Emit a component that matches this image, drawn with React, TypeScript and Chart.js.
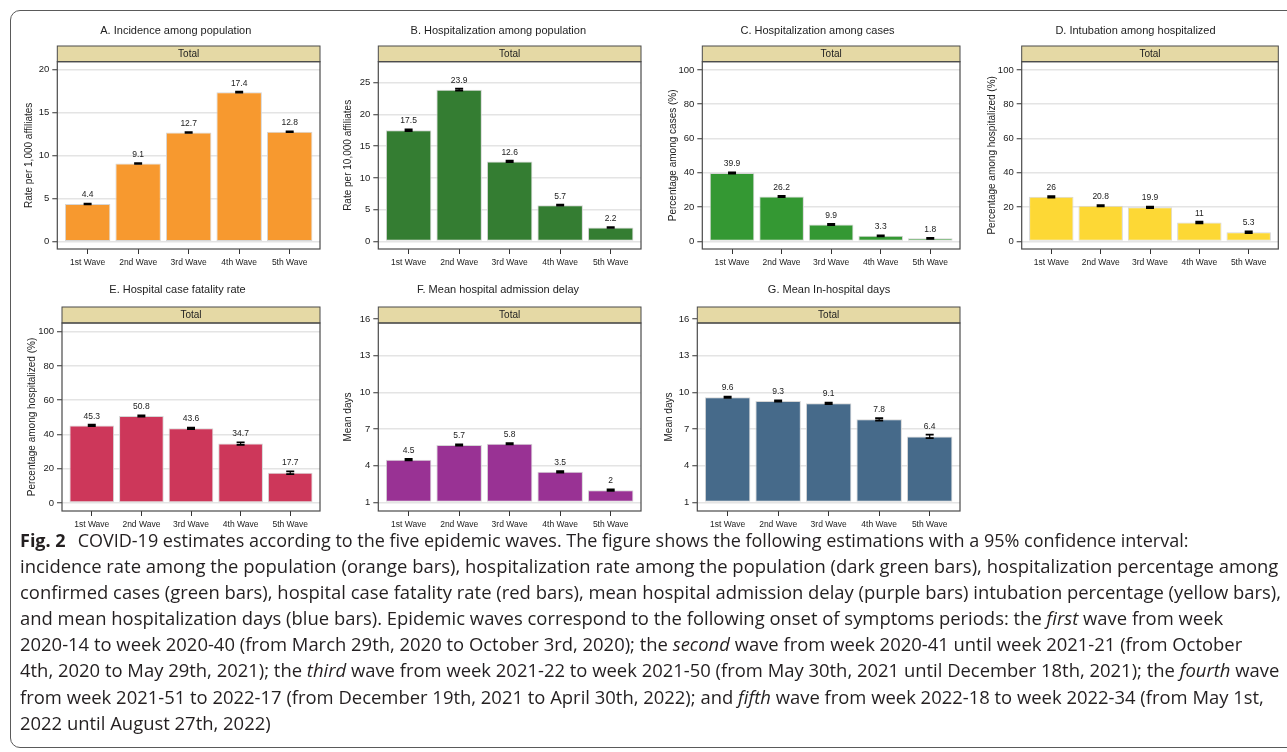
import React, { useEffect, useLayoutEffect, useRef } from 'react';
import { Chart, registerables } from 'chart.js';

Chart.register(...registerables);

// ---------------- DATA ----------------
const waveLabels = ['1st Wave', '2nd Wave', '3rd Wave', '4th Wave', '5th Wave'];
const stripLabel = 'Total';

const incidenceValues = [4.4, 9.1, 12.7, 17.4, 12.8];
const incidenceLower = [4.36, 9.06, 12.66, 17.35, 12.75];
const incidenceUpper = [4.44, 9.14, 12.74, 17.45, 12.85];

const hospPopValues = [17.5, 23.9, 12.6, 5.7, 2.2];
const hospPopLower = [17.35, 23.75, 12.5, 5.63, 2.15];
const hospPopUpper = [17.65, 24.05, 12.7, 5.77, 2.25];

const hospCasesValues = [39.9, 26.2, 9.9, 3.3, 1.8];
const hospCasesLower = [39.6, 25.9, 9.6, 3.0, 1.55];
const hospCasesUpper = [40.2, 26.5, 10.2, 3.6, 2.05];

const intubationValues = [26, 20.8, 19.9, 11, 5.3];
const intubationLower = [25.6, 20.4, 19.5, 10.5, 4.8];
const intubationUpper = [26.4, 21.2, 20.3, 11.5, 5.8];

const fatalityValues = [45.3, 50.8, 43.6, 34.7, 17.7];
const fatalityLower = [44.9, 50.4, 43.2, 34.0, 16.9];
const fatalityUpper = [45.7, 51.2, 44.0, 35.4, 18.5];

const delayValues = [4.5, 5.7, 5.8, 3.5, 2];
const delayLower = [4.45, 5.65, 5.75, 3.44, 1.94];
const delayUpper = [4.55, 5.75, 5.85, 3.56, 2.06];

const inHospitalValues = [9.6, 9.3, 9.1, 7.8, 6.4];
const inHospitalLower = [9.55, 9.25, 9.04, 7.7, 6.26];
const inHospitalUpper = [9.65, 9.35, 9.16, 7.9, 6.54];

const ticksIncidence = [0, 5, 10, 15, 20];
const ticksHospPop = [0, 5, 10, 15, 20, 25];
const ticksPercent = [0, 20, 40, 60, 80, 100];
const ticksDays = [1, 4, 7, 10, 13, 16];

const panelTitles = [
  'A. Incidence among population',
  'B. Hospitalization among population',
  'C. Hospitalization among cases',
  'D. Intubation among hospitalized',
  'E. Hospital case fatality rate',
  'F. Mean hospital admission delay',
  'G. Mean In-hospital days',
];

const axisTitles = [
  'Rate per 1,000 affiliates',
  'Rate per 10,000 affiliates',
  'Percentage among cases (%)',
  'Percentage among hospitalized (%)',
  'Percentage among hospitalized (%)',
  'Mean days',
  'Mean days',
];

const captionLabel = 'Fig. 2';
const captionLines = [
  'COVID-19 estimates according to the five epidemic waves. The figure shows the following estimations with a 95% confidence interval:',
  'incidence rate among the population (orange bars), hospitalization rate among the population (dark green bars), hospitalization percentage among',
  'confirmed cases (green bars), hospital case fatality rate (red bars), mean hospital admission delay (purple bars) intubation percentage (yellow bars),',
  'and mean hospitalization days (blue bars). Epidemic waves correspond to the following onset of symptoms periods: the *first* wave from week',
  '2020-14 to week 2020-40 (from March 29th, 2020 to October 3rd, 2020); the *second* wave from week 2020-41 until week 2021-21 (from October',
  '4th, 2020 to May 29th, 2021); the *third* wave from week 2021-22 to week 2021-50 (from May 30th, 2021 until December 18th, 2021); the *fourth* wave',
  'from week 2021-51 to 2022-17 (from December 19th, 2021 to April 30th, 2022); and *fifth* wave from week 2022-18 to week 2022-34 (from May 1st,',
  '2022 until August 27th, 2022)',
];

// ---------------- STYLE / LAYOUT ----------------
const FONT = '"Liberation Sans", Arial, Helvetica, sans-serif';
const frameColor = '#4a4a4a';
const gridColor = '#e4e4e4';
const textColor = '#222222';
const stripColor = '#e5d9a5';
const barEdge = '#d6d6d6';

type Row = { top: number; titleY: number; stripTop: number; plotTop: number; plotBottom: number };
const ROWS: Row[] = [
  { top: 14, titleY: 30.7, stripTop: 46, plotTop: 61.7, plotBottom: 249 },
  { top: 275, titleY: 290, stripTop: 307, plotTop: 323, plotBottom: 511 },
];

type Panel = {
  title: string;
  axisTitle: string;
  values: number[];
  lower: number[];
  upper: number[];
  ticks: number[];
  min: number;
  max: number;
  base: number;
  color: string;
  row: number;
  yTitleX: number;
  plotLeft: number;
  plotRight: number;
  titleX: number;
};

const panels: Panel[] = [
  { title: panelTitles[0], axisTitle: axisTitles[0], values: incidenceValues, lower: incidenceLower, upper: incidenceUpper, ticks: ticksIncidence, min: -0.85, max: 20.95, base: 0, color: '#f7992f', row: 0, yTitleX: 29, plotLeft: 57.3, plotRight: 320, titleX: 175.8 },
  { title: panelTitles[1], axisTitle: axisTitles[1], values: hospPopValues, lower: hospPopLower, upper: hospPopUpper, ticks: ticksHospPop, min: -1.2, max: 28.3, base: 0, color: '#347d32', row: 0, yTitleX: 348.3, plotLeft: 378.3, plotRight: 641, titleX: 498.3 },
  { title: panelTitles[2], axisTitle: axisTitles[2], values: hospCasesValues, lower: hospCasesLower, upper: hospCasesUpper, ticks: ticksPercent, min: -4.4, max: 104.8, base: 0, color: '#349833', row: 0, yTitleX: 672.7, plotLeft: 702.3, plotRight: 960, titleX: 817.5 },
  { title: panelTitles[3], axisTitle: axisTitles[3], values: intubationValues, lower: intubationLower, upper: intubationUpper, ticks: ticksPercent, min: -4.4, max: 104.8, base: 0, color: '#fdd835', row: 0, yTitleX: 991.7, plotLeft: 1021.7, plotRight: 1278.3, titleX: 1135.5 },
  { title: panelTitles[4], axisTitle: axisTitles[4], values: fatalityValues, lower: fatalityLower, upper: fatalityUpper, ticks: ticksPercent, min: -4.6, max: 105, base: 0, color: '#cd375a', row: 1, yTitleX: 31.7, plotLeft: 62, plotRight: 320, titleX: 177.5 },
  { title: panelTitles[5], axisTitle: axisTitles[5], values: delayValues, lower: delayLower, upper: delayUpper, ticks: ticksDays, min: 0.3, max: 15.67, base: 1, color: '#993294', row: 1, yTitleX: 348.3, plotLeft: 378.3, plotRight: 641, titleX: 498 },
  { title: panelTitles[6], axisTitle: axisTitles[6], values: inHospitalValues, lower: inHospitalLower, upper: inHospitalUpper, ticks: ticksDays, min: 0.3, max: 15.67, base: 1, color: '#466a8a', row: 1, yTitleX: 669, plotLeft: 697.3, plotRight: 960, titleX: 829 },
];

function PanelChart({ p }: { p: Panel }) {
  const ref = useRef<HTMLCanvasElement>(null);
  const row = ROWS[p.row];
  const cl = Math.round(p.yTitleX - 6);
  const ct = row.top;
  const innerW = p.plotRight - cl;
  const w = Math.ceil(innerW) + 8;
  const xAxisH = 25;
  const h = Math.round(row.plotBottom - ct) + xAxisH;

  useEffect(() => {
    const canvas = ref.current;
    if (!canvas) return;
    const stripTop = row.stripTop - ct;

    const decor = {
      id: 'panelDecor',
      afterDraw(chart: any) {
        const ctx = chart.ctx as CanvasRenderingContext2D;
        const { left, right, top, bottom } = chart.chartArea;
        const ys = chart.scales.y;
        const meta = chart.getDatasetMeta(0);
        ctx.save();
        // strip
        ctx.fillStyle = stripColor;
        ctx.fillRect(left, stripTop, right - left, top - stripTop);
        ctx.strokeStyle = frameColor;
        ctx.lineWidth = 1;
        ctx.strokeRect(left, stripTop, right - left, top - stripTop);
        ctx.fillStyle = textColor;
        ctx.font = `10px ${FONT}`;
        ctx.textAlign = 'center';
        ctx.textBaseline = 'middle';
        ctx.fillText(stripLabel, (left + right) / 2, (stripTop + top) / 2 + 0.5);
        // frame
        ctx.lineWidth = 1.2;
        ctx.strokeRect(left, top, right - left, bottom - top);
        // error bars + value labels
        meta.data.forEach((bar: any, i: number) => {
          const x = bar.x;
          const yl = ys.getPixelForValue(p.lower[i]);
          const yh = ys.getPixelForValue(p.upper[i]);
          ctx.strokeStyle = '#000';
          ctx.lineWidth = 1.2;
          ctx.beginPath();
          ctx.moveTo(x, yl);
          ctx.lineTo(x, yh);
          ctx.stroke();
          ctx.lineWidth = 1.8;
          ctx.beginPath();
          ctx.moveTo(x - 4, yl);
          ctx.lineTo(x + 4, yl);
          ctx.moveTo(x - 4, yh);
          ctx.lineTo(x + 4, yh);
          ctx.stroke();
          ctx.fillStyle = textColor;
          ctx.font = `8.5px ${FONT}`;
          ctx.textAlign = 'center';
          ctx.textBaseline = 'middle';
          ctx.fillText(String(p.values[i]), x, yh - 8.5);
        });
        // panel title
        ctx.fillStyle = textColor;
        ctx.font = `11px ${FONT}`;
        ctx.textAlign = 'center';
        ctx.textBaseline = 'middle';
        ctx.fillText(p.title, p.titleX - cl, row.titleY - ct);
        ctx.restore();
      },
    };

    const chart = new Chart(canvas, {
      type: 'bar',
      data: {
        datasets: [
          {
            data: p.values.map((v, i) => ({ x: i + 1, y: v })),
            backgroundColor: p.color,
            borderColor: barEdge,
            borderWidth: 1,
            borderSkipped: false,
            barPercentage: 0.9,
            categoryPercentage: 1,
            base: p.base,
          } as any,
        ],
      },
      options: {
        responsive: false,
        animation: false,
        events: [],
        layout: { padding: { top: row.plotTop - ct, right: w - innerW, left: 0, bottom: 0 } },
        plugins: { legend: { display: false }, tooltip: { enabled: false }, title: { display: false } },
        scales: {
          x: {
            type: 'linear',
            offset: false,
            min: 0.4,
            max: 5.6,
            afterBuildTicks: (s: any) => {
              s.ticks = waveLabels.map((_, i) => ({ value: i + 1 }));
            },
            afterFit: (s: any) => {
              s.height = xAxisH;
            },
            ticks: {
              autoSkip: false,
              maxRotation: 0,
              minRotation: 0,
              padding: 3.5,
              color: textColor,
              font: { family: FONT, size: 8.5 },
              callback: (v: any) => waveLabels[Math.round(Number(v)) - 1],
            },
            grid: { display: true, drawOnChartArea: false, drawTicks: true, tickLength: 5, tickColor: '#333', tickWidth: 1, offset: false },
            border: { display: false },
          },
          y: {
            type: 'linear',
            min: p.min,
            max: p.max,
            afterBuildTicks: (s: any) => {
              s.ticks = p.ticks.map((v) => ({ value: v }));
            },
            afterFit: (s: any) => {
              s.width = p.plotLeft - cl;
            },
            ticks: {
              autoSkip: false,
              padding: 3,
              color: textColor,
              font: { family: FONT, size: 9.5 },
            },
            grid: { color: gridColor, lineWidth: 1.5, drawTicks: true, tickLength: 5, tickColor: '#333', tickWidth: 1 },
            border: { display: false },
            title: { display: true, text: p.axisTitle, color: textColor, font: { family: FONT, size: 10 }, padding: 0 },
          },
        },
      } as any,
      plugins: [decor],
    });
    return () => chart.destroy();
  }, []);

  return (
    <canvas
      ref={ref}
      width={w}
      height={h}
      style={{ position: 'absolute', left: cl, top: ct, width: w, height: h }}
    />
  );
}

function CaptionLine({ text }: { text: string }) {
  const parts = text.split('*');
  return (
    <>
      {parts.map((t, i) => (i % 2 === 1 ? <i key={i}>{t}</i> : <span key={i}>{t}</span>))}
    </>
  );
}

const captionWidth = 1258;
const captionFirstLineWidth = 1168;

function Caption() {
  const boxRef = useRef<HTMLDivElement>(null);
  const refLine = useRef<HTMLDivElement>(null);
  const firstLine = useRef<HTMLDivElement>(null);
  useLayoutEffect(() => {
    const fit = () => {
      if (!boxRef.current || !refLine.current || !firstLine.current) return;
      const natural = refLine.current.offsetWidth;
      const k = captionWidth / natural;
      boxRef.current.style.transform = `scaleX(${k})`;
      const f = firstLine.current.offsetWidth;
      const k1 = captionFirstLineWidth / (f * k);
      firstLine.current.style.transform = `scaleX(${k1})`;
    };
    fit();
    if ((document as any).fonts && (document as any).fonts.ready) {
      (document as any).fonts.ready.then(fit);
    }
  }, []);
  return (
    <div
      ref={boxRef}
      style={{
        position: 'absolute',
        left: 20,
        top: 527,
        fontFamily: '"Open Sans", "Noto Sans", sans-serif',
        fontSize: 18,
        lineHeight: '26.1px',
        color: '#231f20',
        transformOrigin: '0 0',
        whiteSpace: 'nowrap',
      }}
    >
      {captionLines.map((line, i) => (
        <div
          key={i}
          ref={i === 1 ? refLine : i === 0 ? firstLine : undefined}
          style={{ width: 'max-content', transformOrigin: '0 0' }}
        >
          {i === 0 ? (
            <>
              <b style={{ fontWeight: 700 }}>{captionLabel}</b>
              <span style={{ display: 'inline-block', width: 12 }} />
            </>
          ) : null}
          <CaptionLine text={line} />
        </div>
      ))}
    </div>
  );
}

export default function App() {
  return (
    <div
      style={{
        position: 'absolute',
        left: 0,
        top: 0,
        width: 1287,
        height: 752,
        overflow: 'hidden',
        background: '#fff',
      }}
    >
      <div
        style={{
          position: 'absolute',
          left: 10,
          top: 10,
          width: 1320,
          height: 738,
          border: '1.3px solid #5a5a5a',
          borderRadius: 10,
          boxSizing: 'border-box',
        }}
      />
      {panels.map((p, i) => (
        <PanelChart key={i} p={p} />
      ))}
      <Caption />
    </div>
  );
}
